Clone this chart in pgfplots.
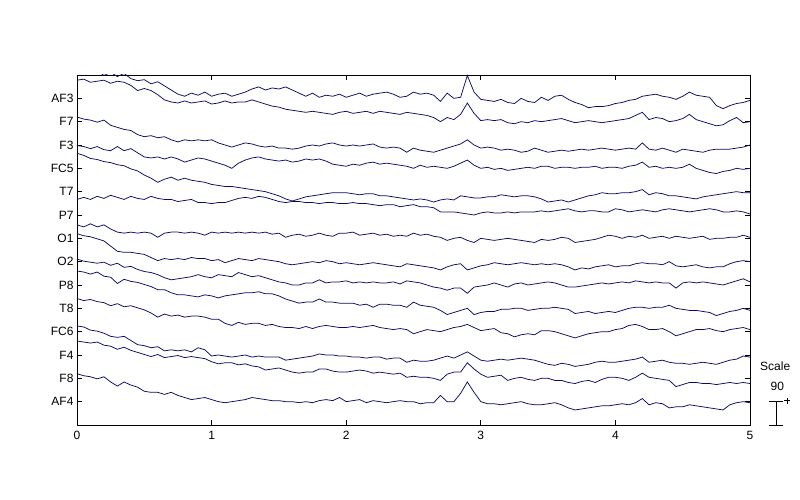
\documentclass[border=0pt]{standalone}
\usepackage{fontspec}
\setmainfont{Liberation Sans}
\usepackage{pgfplots}
\usepackage{pgfplotstable}
\pgfplotsset{compat=1.18}

\definecolor{trace}{RGB}{10,10,100}

% samples every 0.05 s, values in uV relative to each channel's baseline
\pgfplotstableread[row sep=\\]{v\\
104\\112\\96\\108\\88\\100\\84\\96\\76\\68\\72\\56\\64\\48\\32\\16\\8\\20\\12\\24\\
8\\16\\20\\8\\16\\24\\36\\44\\32\\40\\36\\44\\32\\20\\8\\20\\4\\12\\8\\16\\
4\\12\\20\\8\\16\\20\\24\\16\\4\\8\\24\\16\\20\\12\\-12\\20\\0\\4\\88\\24\\
-4\\-8\\-12\\-4\\-16\\-20\\0\\-12\\-16\\4\\-8\\8\\12\\-4\\-16\\-24\\-36\\-32\\-32\\-28\\
-20\\-16\\-8\\-4\\8\\12\\16\\8\\4\\-4\\8\\24\\12\\8\\4\\-28\\-40\\-28\\-20\\-16\\-8\\
}\tAFthree
\pgfplotstableread[row sep=\\]{v\\
160\\164\\152\\156\\160\\148\\156\\152\\140\\120\\128\\120\\104\\84\\76\\72\\80\\72\\76\\80\\
68\\72\\80\\72\\76\\76\\84\\76\\68\\60\\56\\48\\44\\40\\36\\40\\36\\32\\28\\36\\
40\\32\\36\\40\\32\\40\\36\\32\\28\\36\\32\\28\\24\\16\\0\\16\\8\\28\\72\\32\\
4\\8\\4\\8\\-4\\-8\\0\\-4\\4\\0\\4\\8\\12\\4\\-4\\0\\4\\0\\-4\\0\\
4\\8\\12\\24\\36\\8\\16\\12\\0\\4\\12\\28\\8\\0\\-8\\-16\\-12\\4\\16\\-4\\0\\
}\tFseven
\pgfplotstableread[row sep=\\]{v\\
108\\100\\96\\88\\96\\76\\68\\60\\56\\40\\32\\36\\28\\32\\20\\12\\20\\16\\20\\16\\
20\\8\\0\\-8\\0\\8\\4\\-4\\-8\\-4\\-12\\-12\\-16\\-12\\-4\\0\\-4\\4\\8\\0\\
-4\\0\\-4\\0\\4\\-8\\-12\\-8\\-12\\-28\\-12\\-20\\-24\\-28\\-20\\-12\\-4\\4\\20\\0\\
-12\\-8\\-12\\-20\\-16\\-20\\-28\\-24\\-12\\-20\\-28\\-24\\-20\\-24\\-20\\-16\\-20\\-16\\-12\\-16\\
-20\\-16\\-12\\-16\\8\\-16\\-20\\-12\\-20\\-28\\-16\\-20\\-24\\-28\\-20\\-16\\-16\\-16\\-12\\-8\\0\\
}\tFthree
\pgfplotstableread[row sep=\\]{v\\
88\\84\\76\\84\\72\\68\\84\\68\\76\\60\\44\\40\\44\\36\\44\\36\\24\\32\\40\\36\\
28\\20\\12\\0\\20\\32\\40\\44\\36\\32\\28\\32\\24\\28\\36\\32\\36\\28\\16\\12\\
8\\16\\12\\20\\24\\16\\20\\16\\12\\8\\0\\12\\4\\8\\4\\0\\8\\20\\32\\12\\
0\\4\\-4\\0\\-8\\-4\\0\\4\\0\\8\\8\\0\\4\\4\\0\\4\\4\\8\\0\\4\\
4\\0\\8\\12\\24\\4\\8\\0\\4\\0\\4\\16\\0\\-8\\-16\\-20\\-12\\-8\\0\\-4\\0\\
}\tFCfive
\pgfplotstableread[row sep=\\]{v\\
148\\140\\128\\124\\116\\112\\104\\100\\88\\80\\64\\52\\36\\48\\56\\44\\52\\44\\40\\36\\
28\\24\\20\\20\\16\\12\\8\\4\\0\\-8\\-16\\-28\\-36\\-28\\-20\\-16\\-12\\-8\\-4\\-4\\
-4\\-8\\-12\\-8\\-8\\-16\\-16\\-20\\-24\\-28\\-32\\-28\\-32\\-40\\-32\\-28\\-32\\-16\\-20\\-24\\
-24\\-20\\-20\\-12\\-16\\-20\\-16\\-16\\-20\\-28\\-40\\-36\\-32\\-40\\-32\\-24\\-16\\-12\\-4\\-8\\
-8\\-4\\-4\\0\\8\\-12\\-4\\-8\\-16\\-16\\-20\\-24\\-28\\-20\\-16\\-12\\-8\\-4\\0\\-4\\-4\\
}\tTseven
\pgfplotstableread[row sep=\\]{v\\
60\\68\\60\\72\\64\\76\\68\\60\\72\\64\\60\\72\\64\\60\\60\\52\\56\\60\\48\\48\\
44\\48\\48\\56\\64\\68\\64\\72\\68\\60\\52\\48\\52\\52\\48\\48\\44\\48\\48\\44\\
44\\48\\44\\44\\40\\36\\40\\40\\32\\36\\40\\32\\32\\28\\12\\12\\12\\8\\4\\0\\
8\\12\\8\\8\\12\\8\\12\\12\\12\\16\\12\\16\\20\\24\\16\\12\\16\\16\\12\\12\\
24\\20\\12\\16\\20\\16\\12\\20\\24\\20\\16\\12\\16\\20\\24\\20\\12\\12\\16\\12\\4\\
}\tPseven
\pgfplotstableread[row sep=\\]{v\\
52\\44\\56\\44\\52\\36\\24\\20\\24\\20\\24\\20\\4\\20\\24\\24\\20\\24\\20\\12\\
24\\20\\24\\20\\24\\20\\24\\20\\24\\16\\20\\4\\12\\16\\8\\12\\20\\12\\8\\20\\
20\\24\\12\\16\\20\\12\\16\\8\\12\\8\\20\\12\\16\\8\\4\\-8\\0\\4\\-8\\-16\\
0\\-4\\-8\\-4\\0\\-4\\-8\\-12\\-16\\-4\\-8\\-4\\4\\0\\-16\\-12\\-8\\-4\\4\\12\\
8\\0\\8\\4\\12\\0\\4\\8\\0\\8\\4\\0\\4\\8\\-4\\0\\0\\4\\4\\12\\4\\
}\tOone
\pgfplotstableread[row sep=\\]{v\\
108\\100\\96\\88\\80\\60\\40\\36\\36\\32\\28\\16\\4\\12\\8\\12\\8\\16\\12\\12\\
4\\8\\-4\\4\\12\\8\\4\\12\\8\\4\\0\\-8\\-12\\-8\\-4\\0\\-4\\4\\0\\-8\\
-4\\-8\\-12\\-8\\-4\\-8\\-12\\-16\\-20\\-8\\-12\\-16\\-20\\-24\\-32\\-20\\-12\\-8\\-32\\-24\\
-16\\-12\\-4\\-8\\-12\\-8\\-4\\-8\\-12\\-8\\-12\\-8\\-12\\-20\\-32\\-24\\-28\\-20\\-16\\-12\\
-20\\-16\\-16\\-8\\-4\\-8\\-8\\-12\\0\\-16\\-20\\-16\\-12\\-20\\-24\\-20\\-20\\-8\\0\\4\\0\\
}\tOtwo
\pgfplotstableread[row sep=\\]{v\\
100\\92\\88\\84\\88\\76\\84\\68\\72\\60\\52\\48\\40\\28\\20\\24\\28\\32\\40\\32\\
28\\40\\36\\32\\48\\40\\32\\36\\28\\20\\12\\8\\0\\0\\8\\8\\20\\8\\12\\12\\
16\\8\\12\\8\\12\\8\\8\\12\\4\\16\\12\\8\\0\\-8\\-12\\-20\\-12\\-12\\-32\\-8\\
-4\\0\\8\\0\\-8\\4\\8\\0\\4\\8\\12\\8\\0\\-8\\-8\\-4\\0\\4\\8\\4\\
8\\12\\8\\16\\12\\8\\12\\8\\8\\-12\\8\\12\\8\\12\\8\\4\\0\\8\\16\\24\\12\\
}\tPeight
\pgfplotstableread[row sep=\\]{v\\
144\\140\\132\\140\\124\\120\\96\\112\\104\\100\\92\\84\\72\\72\\60\\52\\52\\48\\44\\52\\
48\\40\\48\\52\\56\\60\\60\\64\\56\\56\\48\\36\\28\\20\\24\\24\\36\\24\\24\\20\\
20\\20\\12\\16\\4\\16\\16\\12\\12\\4\\24\\12\\8\\4\\-8\\-24\\-16\\-8\\0\\-24\\
-16\\-12\\-12\\-4\\-4\\0\\0\\-8\\-4\\0\\0\\4\\0\\-4\\-20\\-16\\-12\\-20\\-16\\-12\\
-16\\-8\\0\\4\\4\\0\\4\\4\\12\\0\\-4\\-8\\-8\\-12\\-16\\-28\\-20\\-12\\-8\\0\\-8\\
}\tTeight
\pgfplotstableread[row sep=\\]{v\\
128\\120\\124\\116\\112\\100\\108\\96\\100\\92\\84\\72\\56\\68\\60\\64\\56\\60\\60\\56\\
48\\48\\32\\24\\36\\28\\32\\32\\24\\28\\20\\16\\16\\12\\20\\12\\20\\24\\20\\16\\
16\\20\\16\\20\\24\\16\\12\\8\\12\\8\\-8\\0\\8\\4\\0\\8\\16\\20\\28\\16\\
4\\8\\12\\-4\\-8\\-20\\-12\\-8\\-12\\4\\4\\0\\-8\\-16\\-24\\-16\\-8\\-4\\0\\0\\
8\\12\\24\\28\\20\\8\\8\\12\\0\\-16\\-8\\0\\8\\8\\12\\4\\0\\8\\12\\16\\8\\
}\tFCsix
\pgfplotstableread[row sep=\\]{v\\
112\\108\\96\\92\\84\\72\\68\\72\\56\\40\\36\\28\\32\\16\\20\\16\\20\\12\\28\\20\\
-4\\0\\-4\\-8\\-4\\0\\-8\\-4\\-8\\-8\\-8\\-20\\-16\\-12\\-8\\-4\\4\\0\\0\\-4\\
-4\\-8\\-8\\-12\\-8\\-8\\-16\\-12\\-12\\-28\\-20\\-24\\-24\\-20\\-12\\-4\\-12\\0\\12\\-4\\
-20\\-24\\-20\\-16\\-20\\-16\\-12\\-16\\-20\\-28\\-36\\-40\\-32\\-36\\-44\\-40\\-36\\-28\\-24\\-28\\
-28\\-24\\-20\\-16\\-8\\-28\\-24\\-20\\-28\\-32\\-32\\-36\\-32\\-28\\-32\\-36\\-28\\-20\\-16\\-4\\-8\\
}\tFfour
\pgfplotstableread[row sep=\\]{v\\
144\\140\\136\\140\\128\\124\\112\\120\\108\\100\\92\\84\\92\\80\\84\\88\\80\\84\\80\\76\\
64\\56\\60\\60\\52\\56\\48\\44\\32\\36\\40\\32\\24\\20\\24\\24\\36\\36\\28\\24\\
24\\28\\32\\28\\20\\24\\20\\16\\20\\4\\8\\4\\4\\0\\-8\\16\\24\\24\\60\\36\\
16\\4\\8\\12\\-8\\0\\4\\-4\\-8\\0\\0\\-8\\-8\\-16\\-20\\-12\\-8\\-16\\-4\\4\\
4\\0\\-8\\4\\20\\4\\0\\-4\\-8\\-32\\-24\\-16\\-16\\-20\\-20\\-24\\-20\\-16\\-20\\-16\\-20\\
}\tFeight
\pgfplotstableread[row sep=\\]{v\\
108\\100\\96\\88\\96\\76\\60\\76\\64\\56\\40\\36\\36\\28\\36\\24\\16\\8\\12\\16\\
8\\0\\-4\\0\\4\\8\\16\\12\\8\\4\\4\\0\\0\\-4\\0\\-4\\4\\8\\4\\16\\
0\\4\\8\\-4\\4\\0\\-4\\0\\4\\0\\0\\-8\\-4\\-4\\24\\0\\0\\32\\76\\36\\
0\\-8\\-8\\-12\\-8\\-4\\0\\-8\\-12\\-12\\-8\\-4\\-12\\-24\\-32\\-28\\-24\\-20\\-16\\-16\\
-12\\-8\\-12\\-4\\12\\-12\\-4\\-8\\-24\\-20\\-20\\-12\\-16\\-20\\-24\\-28\\-32\\-12\\-4\\0\\-4\\
}\tAFfour

\begin{document}
\begin{tikzpicture}
\path[use as bounding box] (-77pt,-75pt) rectangle (723pt,425pt);
\begin{axis}[
    at={(0,0)}, anchor=south west,
    scale only axis,
    width=673pt, height=350pt,
    xmin=0, xmax=5, ymin=0, ymax=1350,
    xtick={0,1,2,3,4,5},
    ytick={90,180,270,360,450,540,630,720,810,900,990,1080,1170,1260},
    yticklabels={AF4,F8,F4,FC6,T8,P8,O2,O1,P7,T7,FC5,F3,F7,AF3},
    tick align=inside,
    major tick length=5pt,
    tick style={black, line width=0.8pt},
    axis line style={black, line width=0.8pt},
    ticklabel style={font=\fontsize{12}{14}\selectfont},
    xticklabel style={yshift=-3pt},
    /pgf/number format/assume math mode=true,
    trace/.style={color=trace, line width=0.75pt},
    table/x index=0, table/y index=0,
]
\addplot[trace] table[x expr=\coordindex*0.05, y expr=\thisrow{v}+1260] {\tAFthree};
\addplot[trace] table[x expr=\coordindex*0.05, y expr=\thisrow{v}+1170] {\tFseven};
\addplot[trace] table[x expr=\coordindex*0.05, y expr=\thisrow{v}+1080] {\tFthree};
\addplot[trace] table[x expr=\coordindex*0.05, y expr=\thisrow{v}+990] {\tFCfive};
\addplot[trace] table[x expr=\coordindex*0.05, y expr=\thisrow{v}+900] {\tTseven};
\addplot[trace] table[x expr=\coordindex*0.05, y expr=\thisrow{v}+810] {\tPseven};
\addplot[trace] table[x expr=\coordindex*0.05, y expr=\thisrow{v}+720] {\tOone};
\addplot[trace] table[x expr=\coordindex*0.05, y expr=\thisrow{v}+630] {\tOtwo};
\addplot[trace] table[x expr=\coordindex*0.05, y expr=\thisrow{v}+540] {\tPeight};
\addplot[trace] table[x expr=\coordindex*0.05, y expr=\thisrow{v}+450] {\tTeight};
\addplot[trace] table[x expr=\coordindex*0.05, y expr=\thisrow{v}+360] {\tFCsix};
\addplot[trace] table[x expr=\coordindex*0.05, y expr=\thisrow{v}+270] {\tFfour};
\addplot[trace] table[x expr=\coordindex*0.05, y expr=\thisrow{v}+180] {\tFeight};
\addplot[trace] table[x expr=\coordindex*0.05, y expr=\thisrow{v}+90] {\tAFfour};
% scale bar anchors (90 uV)
\coordinate (sb) at (axis cs:5.195,0);
\coordinate (st) at (axis cs:5.195,90);
\end{axis}
\draw[line width=0.8pt] (sb) -- (st);
\draw[line width=0.8pt] ([xshift=-7pt]sb) -- ([xshift=7pt]sb);
\draw[line width=0.8pt] ([xshift=-7pt]st) -- ([xshift=7pt]st);
\draw[line width=0.8pt] ([xshift=8pt,yshift=1pt]st) -- ([xshift=14pt,yshift=1pt]st)
    ([xshift=11pt,yshift=-2pt]st) -- ([xshift=11pt,yshift=4pt]st);
\node[font=\fontsize{12}{14}\selectfont] at ([xshift=1pt,yshift=15pt]st) {90};
\node[font=\fontsize{12}{14}\selectfont] at ([xshift=-1pt,yshift=35pt]st) {Scale};
\end{tikzpicture}
\end{document}
